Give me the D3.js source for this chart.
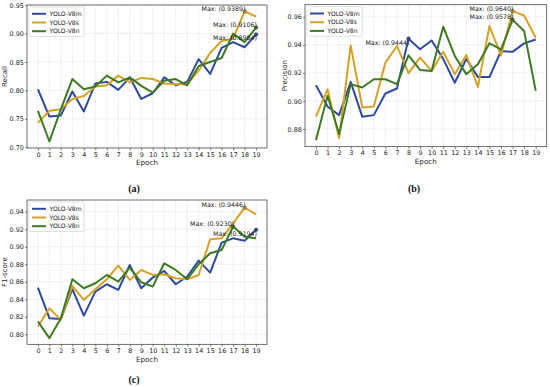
<!DOCTYPE html>
<html>
<head>
<meta charset="utf-8">
<script src="https://cdn.jsdelivr.net/npm/d3@7"></script>
<style>
  body { margin: 0; background: #fff; }
  svg { display: block; font-family: "DejaVu Sans", sans-serif; }
</style>
</head>
<body>
<script>
// data
const epochs = [0, 1, 2, 3, 4, 5, 6, 7, 8, 9, 10, 11, 12, 13, 14, 15, 16, 17, 18, 19];
const seriesNames = ["YOLO-V8m", "YOLO-V8s", "YOLO-V8n"];

const recallV8m = [0.802, 0.754, 0.756, 0.798, 0.763, 0.812, 0.815, 0.801, 0.823, 0.785,
                   0.795, 0.823, 0.809, 0.815, 0.855, 0.829, 0.875, 0.885, 0.876, 0.8984];
const recallV8s = [0.743, 0.764, 0.767, 0.785, 0.790, 0.807, 0.809, 0.826, 0.814, 0.822,
                   0.820, 0.812, 0.811, 0.811, 0.835, 0.866, 0.887, 0.891, 0.9389, 0.930];
const recallV8n = [0.764, 0.710, 0.767, 0.820, 0.802, 0.807, 0.826, 0.814, 0.823, 0.808,
                   0.796, 0.817, 0.820, 0.809, 0.843, 0.850, 0.857, 0.900, 0.885, 0.9106];

const precisionV8m = [0.9112, 0.8961, 0.8899, 0.9136, 0.8888, 0.8899, 0.9053, 0.9089, 0.9444, 0.9368,
                      0.9431, 0.9300, 0.9130, 0.9300, 0.9170, 0.9170, 0.9356, 0.9350, 0.9410, 0.9438];
const precisionV8s = [0.8888, 0.9084, 0.8734, 0.9396, 0.8954, 0.8961, 0.9273, 0.9392, 0.9198, 0.9309,
                      0.9214, 0.9351, 0.9191, 0.9328, 0.9100, 0.9534, 0.9325, 0.9640, 0.9609, 0.9451];
const precisionV8n = [0.8722, 0.9037, 0.8764, 0.9120, 0.9096, 0.9155, 0.9155, 0.9120, 0.9325, 0.9221,
                      0.9214, 0.9529, 0.9321, 0.9191, 0.9262, 0.9411, 0.9368, 0.9578, 0.9498, 0.9072];

const f1V8m = [0.8534, 0.8184, 0.8176, 0.8515, 0.8214, 0.8488, 0.8572, 0.8507, 0.8792, 0.8526,
               0.8648, 0.8724, 0.8572, 0.8659, 0.8841, 0.8705, 0.9047, 0.9096, 0.9069, 0.9194];
const f1V8s = [0.8089, 0.8298, 0.8165, 0.8553, 0.8393, 0.8515, 0.8629, 0.8784, 0.8621, 0.8735,
               0.8678, 0.8686, 0.8640, 0.8629, 0.8678, 0.9085, 0.9096, 0.9267, 0.9446, 0.9370];
const f1V8n = [0.8146, 0.7956, 0.8184, 0.8629, 0.8526, 0.8583, 0.8678, 0.8602, 0.8762, 0.8594,
               0.8545, 0.8811, 0.8735, 0.8629, 0.8800, 0.8925, 0.8963, 0.9230, 0.9115, 0.9096];

const recallTicks = [0.70, 0.75, 0.80, 0.85, 0.90, 0.95];
const precisionTicks = [0.88, 0.90, 0.92, 0.94, 0.96];
const f1Ticks = [0.80, 0.82, 0.84, 0.86, 0.88, 0.90, 0.92, 0.94];

const colors = ["#2f4a9b", "#d4a227", "#3e7a22"];

const svg = d3.select("body").append("svg")
    .attr("width", 550)
    .attr("height", 387);

const panels = [
    { box: [27, 267, 5, 148], domain: [0.6986, 0.9503], ticks: recallTicks, yLabel: "Recall",
      caption: "(a)", capX: 134, capY: 191.5, labelX: 5, epochY: 164.5,
      series: [recallV8m, recallV8s, recallV8n] },
    { box: [305, 546.7, 4.7, 146.7], domain: [0.8674, 0.9686], ticks: precisionTicks, yLabel: "Precision",
      caption: "(b)", capX: 414, capY: 191.5, labelX: 284.5, epochY: 163.5,
      series: [precisionV8m, precisionV8s, precisionV8n] },
    { box: [27, 267, 200, 344.3], domain: [0.7886, 0.9534], ticks: f1Ticks, yLabel: "F1-score",
      caption: "(c)", capX: 134, capY: 383, labelX: 5, epochY: 361.5,
      series: [f1V8m, f1V8s, f1V8n] }
];

panels.forEach(drawPanel);

function drawPanel(p) {
    const [x0, x1, y0, y1] = p.box;
    const g = svg.append("g");

    const x = d3.scaleLinear().domain([-0.95, 19.95]).range([x0, x1]);
    const y = d3.scaleLinear().domain(p.domain).range([y1, y0]);

    // grid
    g.append("g").selectAll("line")
        .data(epochs).enter().append("line")
        .attr("x1", d => x(d)).attr("x2", d => x(d))
        .attr("y1", y0).attr("y2", y1)
        .attr("stroke", "#dcdcdc").attr("stroke-width", 0.6)
        .attr("stroke-dasharray", "2,1");
    g.append("g").selectAll("line")
        .data(p.ticks).enter().append("line")
        .attr("x1", x0).attr("x2", x1)
        .attr("y1", d => y(d)).attr("y2", d => y(d))
        .attr("stroke", "#dcdcdc").attr("stroke-width", 0.6)
        .attr("stroke-dasharray", "2,1");

    // axes
    const xAxis = g.append("g")
        .attr("transform", `translate(0,${y1})`)
        .call(d3.axisBottom(x).tickValues(epochs).tickFormat(d3.format("d")).tickSize(2.5).tickPadding(1.5));
    const yAxis = g.append("g")
        .attr("transform", `translate(${x0},0)`)
        .call(d3.axisLeft(y).tickValues(p.ticks).tickFormat(d3.format(".2f")).tickSize(2).tickPadding(1.2));
    [xAxis, yAxis].forEach(a => {
        a.select(".domain").remove();
        a.selectAll("text").attr("font-size", 6.4).attr("fill", "#222")
            .attr("font-family", "DejaVu Sans, sans-serif");
        a.selectAll("line").attr("stroke", "#333").attr("stroke-width", 0.6);
    });

    // frame
    g.append("rect")
        .attr("x", x0).attr("y", y0)
        .attr("width", x1 - x0).attr("height", y1 - y0)
        .attr("fill", "none").attr("stroke", "#333").attr("stroke-width", 0.7);

    // lines
    const line = d3.line().x((d, i) => x(epochs[i])).y(d => y(d));
    p.series.forEach((s, k) => {
        g.append("path")
            .datum(s)
            .attr("fill", "none")
            .attr("stroke", colors[k])
            .attr("stroke-width", 2)
            .attr("stroke-linejoin", "round")
            .attr("d", line);
    });

    // max annotations
    p.series.forEach((s, k) => {
        const m = d3.max(s);
        const i = s.indexOf(m);
        const px = x(epochs[i]), py = y(m);
        g.append("circle")
            .attr("cx", px).attr("cy", py).attr("r", 1.8)
            .attr("fill", colors[k]).attr("stroke", "#333").attr("stroke-width", 0.5);
        g.append("text")
            .attr("x", px + 1)
            .attr("y", k === 0 ? py + 6 : py - 0.5)
            .attr("text-anchor", "end")
            .attr("font-size", 6.3)
            .attr("fill", "#222")
            .text(`Max: (${m.toFixed(4)})`);
    });

    // legend
    const lg = g.append("g").attr("transform", `translate(${x0 + 2},${y0 + 2})`);
    lg.append("rect")
        .attr("width", 55).attr("height", 29.5)
        .attr("rx", 1.5)
        .attr("fill", "#fff").attr("fill-opacity", 0.85)
        .attr("stroke", "#ccc").attr("stroke-width", 0.6);
    seriesNames.forEach((name, k) => {
        const ly = 6.8 + k * 8.7;
        lg.append("line")
            .attr("x1", 3).attr("x2", 17)
            .attr("y1", ly).attr("y2", ly)
            .attr("stroke", colors[k]).attr("stroke-width", 2);
        lg.append("text")
            .attr("x", 20.5).attr("y", ly + 2.2)
            .attr("font-size", 6.1)
            .attr("fill", "#222")
            .text(name);
    });

    // axis labels
    g.append("text")
        .attr("x", (x0 + x1) / 2).attr("y", p.epochY)
        .attr("text-anchor", "middle")
        .attr("font-size", 7.2).attr("fill", "#222")
        .text("Epoch");
    g.append("text")
        .attr("transform", `translate(${p.labelX},${(y0 + y1) / 2}) rotate(-90)`)
        .attr("text-anchor", "middle")
        .attr("dy", "0.35em")
        .attr("font-size", 7).attr("fill", "#222")
        .text(p.yLabel);

    // caption
    g.append("text")
        .attr("x", p.capX).attr("y", p.capY)
        .attr("text-anchor", "middle")
        .attr("font-family", "Liberation Serif, serif")
        .attr("font-weight", "bold")
        .attr("font-size", 10)
        .attr("fill", "#111")
        .text(p.caption);
}
</script>
</body>
</html>
